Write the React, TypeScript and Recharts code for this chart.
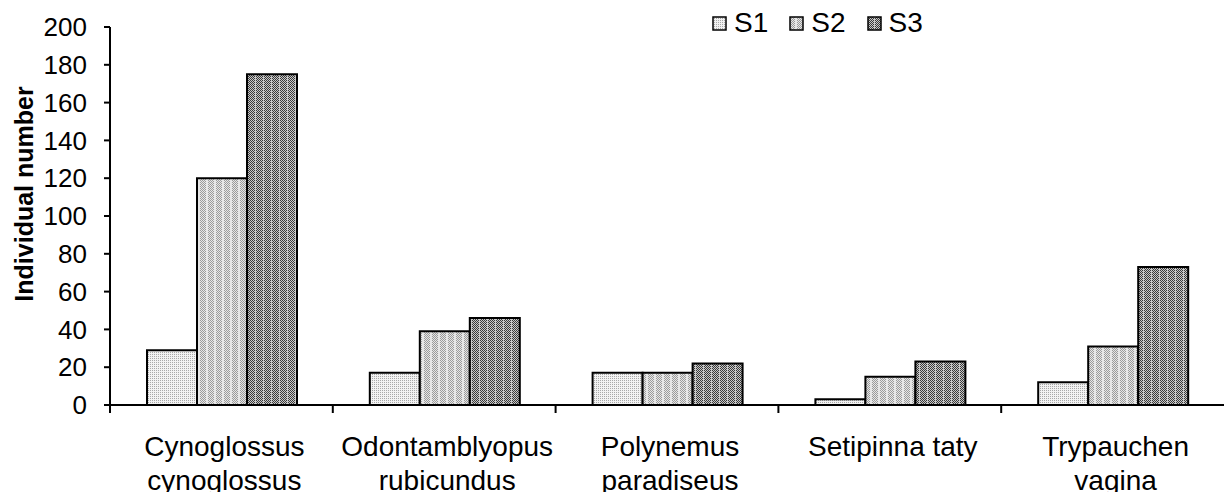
import React from "react";
import { BarChart, Bar, XAxis, YAxis, Legend } from "recharts";

const categories = [
  "Cynoglossus\ncynoglossus",
  "Odontamblyopus\nrubicundus",
  "Polynemus\nparadiseus",
  "Setipinna taty",
  "Trypauchen\nvagina",
];
const s1Values = [29, 17, 17, 3, 12];
const s2Values = [120, 39, 17, 15, 31];
const s3Values = [175, 46, 22, 23, 73];
const yTicks = [0, 20, 40, 60, 80, 100, 120, 140, 160, 180, 200];

const data = categories.map((c, i) => ({
  name: c,
  S1: s1Values[i],
  S2: s2Values[i],
  S3: s3Values[i],
}));

const W = 1224;
const H = 492;
const Y_AXIS_W = 110;
const BAND = (W - Y_AXIS_W) / categories.length;
const FONT = "'Liberation Sans', Arial, sans-serif";

const XTick = (props: any) => {
  const { x, y, payload } = props;
  const lines = String(payload.value).split("\n");
  const bx = x - BAND / 2;
  return (
    <g>
      <line x1={bx} x2={bx} y1={y - 8} y2={y} stroke="#000" strokeWidth={2} />
      {lines.map((l: string, i: number) => (
        <text
          key={i}
          x={x + 3}
          y={y + 43 + i * 34}
          textAnchor="middle"
          fontSize={28}
          fontFamily={FONT}
          fill="#000"
        >
          {l}
        </text>
      ))}
    </g>
  );
};

const LegendContent = (props: any) => {
  const { payload } = props;
  return (
    <div style={{ display: "flex", alignItems: "center", fontFamily: FONT, fontSize: 28, lineHeight: "28px" }}>
      {(payload || []).map((e: any, i: number) => (
        <div key={i} style={{ display: "flex", alignItems: "center", marginRight: 21 }}>
          <svg width={15} height={15} style={{ display: "block" }}>
            <rect x={1} y={1} width={13} height={13} fill={e.color} stroke="#000" strokeWidth={1.5} />
          </svg>
          <span style={{ marginLeft: 7, color: "#000" }}>{e.value}</span>
        </div>
      ))}
    </div>
  );
};

const YLabel = (props: any) => {
  const cx = 24;
  const cy = 194;
  return (
    <text
      x={cx}
      y={cy}
      transform={`rotate(-90, ${cx}, ${cy})`}
      textAnchor="middle"
      dominantBaseline="central"
      fontSize={25}
      fontWeight="bold"
      fontFamily={FONT}
      fill="#000"
    >
      Individual number
    </text>
  );
};

export default function App() {
  return (
    <div style={{ position: "absolute", left: 0, top: 0, width: W, height: H, background: "#fff" }}>
      <svg style={{ position: "absolute", width: 0, height: 0 }}>
        <defs>
          <pattern id="pS1" width={2} height={2} patternUnits="userSpaceOnUse">
            <rect width={2} height={2} fill="#f2f2f2" />
            <rect x={0} y={0} width={1} height={1} fill="#a8a8a8" />
          </pattern>
          <pattern id="pS2" width={8} height={2} patternUnits="userSpaceOnUse">
            <rect width={8} height={2} fill="#e6e6e6" />
            <rect x={0} y={0} width={1} height={1} fill="#9a9a9a" />
            <rect x={1} y={1} width={1} height={1} fill="#9a9a9a" />
            <rect x={2} y={0} width={1} height={1} fill="#9a9a9a" />
            <rect x={3} y={1} width={1} height={1} fill="#9a9a9a" />
            <rect x={4} y={0} width={1} height={1} fill="#9a9a9a" />
            <rect x={5} y={1} width={1} height={1} fill="#9a9a9a" />
          </pattern>
          <pattern id="pS3" width={8} height={2} patternUnits="userSpaceOnUse">
            <rect width={8} height={2} fill="#c8c8c8" />
            <rect x={0} y={0} width={1} height={1} fill="#3a3a3a" />
            <rect x={1} y={1} width={1} height={1} fill="#3a3a3a" />
            <rect x={2} y={0} width={1} height={1} fill="#3a3a3a" />
            <rect x={3} y={1} width={1} height={1} fill="#3a3a3a" />
            <rect x={4} y={0} width={1} height={1} fill="#3a3a3a" />
            <rect x={5} y={1} width={1} height={1} fill="#3a3a3a" />
            <rect x={6} y={0} width={1} height={1} fill="#3a3a3a" />
          </pattern>
        </defs>
      </svg>
      <BarChart
        width={W}
        height={H}
        data={data}
        margin={{ top: 27, right: 0, bottom: 0, left: 0 }}
        barCategoryGap={37}
        barGap={0}
        style={{ fontFamily: FONT }}
      >
        <XAxis
          dataKey="name"
          height={87}
          interval={0}
          tick={<XTick />}
          tickLine={false}
          tickSize={8}
          tickMargin={0}
          axisLine={{ stroke: "#000", strokeWidth: 2 }}
        />
        <YAxis
          width={Y_AXIS_W}
          domain={[0, 200]}
          ticks={yTicks}
          interval={0}
          tickSize={6}
          tickMargin={17}
          tick={{ fill: "#000", fontSize: 26, fontFamily: FONT }}
          tickLine={{ stroke: "#000", strokeWidth: 2 }}
          axisLine={{ stroke: "#000", strokeWidth: 2 }}
          label={<YLabel />}
        />
        <Legend
          layout="horizontal"
          verticalAlign="middle"
          align="center"
          content={<LegendContent />}
          wrapperStyle={{ position: "absolute", top: 9, left: 712, width: "auto" }}
        />
        <Bar dataKey="S1" name="S1" fill="url(#pS1)" stroke="#000" strokeWidth={2} isAnimationActive={false} />
        <Bar dataKey="S2" name="S2" fill="url(#pS2)" stroke="#000" strokeWidth={2} isAnimationActive={false} />
        <Bar dataKey="S3" name="S3" fill="url(#pS3)" stroke="#000" strokeWidth={2} isAnimationActive={false} />
      </BarChart>
    </div>
  );
}
